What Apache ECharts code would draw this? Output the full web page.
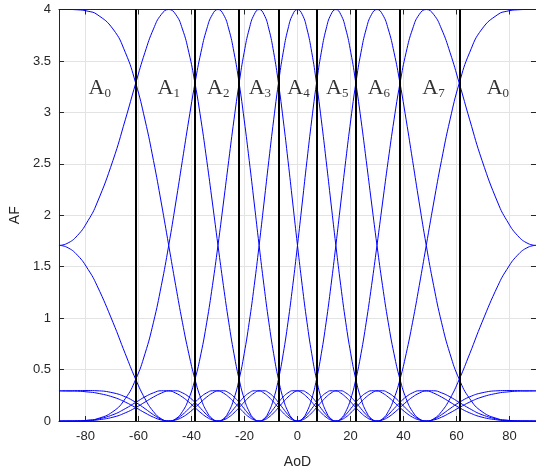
<!DOCTYPE html>
<html>
<head>
<meta charset="utf-8">
<script src="https://cdn.jsdelivr.net/npm/echarts@6/dist/echarts.min.js"></script>
<style>
  html, body { margin: 0; padding: 0; background: #fff; }
  #main { width: 536px; height: 475px; }
</style>
</head>
<body>
<div id="main"></div>
<script>
// AoD sample points (deg)
var theta = [-90, -87, -83, -79, -75.64, -69.64, -64.99, -61.04, -57.54, -54.34, -51.38, -48.59, -45.95, -43.43, -41.01, -38.68, -36.42, -34.23, -32.09, -30, -27.95, -25.94, -23.97, -22.02, -20.11, -18.21, -16.33, -14.48, -12.64, -10.81, -8.99, -7.18, -5.38, -3.58, -1.79, 0, 1.79, 3.58, 5.38, 7.18, 8.99, 10.81, 12.64, 14.48, 16.33, 18.21, 20.11, 22.02, 23.97, 25.94, 27.95, 30, 32.09, 34.23, 36.42, 38.68, 41.01, 43.43, 45.95, 48.59, 51.38, 54.34, 57.54, 61.04, 64.99, 69.64, 75.64, 79, 83, 87, 90];

// AF of each beam at those points
var a0 = [4, 4, 3.997, 3.983, 3.952, 3.811, 3.584, 3.284, 2.927, 2.532, 2.119, 1.707, 1.316, 0.96, 0.654, 0.405, 0.217, 0.091, 0.021, 0, 0.017, 0.061, 0.12, 0.181, 0.235, 0.274, 0.294, 0.293, 0.271, 0.233, 0.184, 0.13, 0.079, 0.037, 0.01, 0, 0.01, 0.037, 0.079, 0.13, 0.184, 0.233, 0.271, 0.293, 0.294, 0.274, 0.235, 0.181, 0.12, 0.061, 0.017, 0, 0.021, 0.091, 0.217, 0.405, 0.654, 0.96, 1.316, 1.707, 2.119, 2.532, 2.927, 3.284, 3.584, 3.811, 3.952, 3.983, 3.997, 4, 4];
var a1 = [1.707, 1.725, 1.804, 1.949, 2.119, 2.532, 2.927, 3.284, 3.584, 3.811, 3.952, 4, 3.952, 3.811, 3.584, 3.284, 2.927, 2.532, 2.119, 1.707, 1.316, 0.96, 0.654, 0.405, 0.217, 0.091, 0.021, 0, 0.017, 0.061, 0.12, 0.181, 0.235, 0.274, 0.294, 0.293, 0.271, 0.233, 0.184, 0.13, 0.079, 0.037, 0.01, 0, 0.01, 0.037, 0.079, 0.13, 0.184, 0.233, 0.271, 0.293, 0.294, 0.274, 0.235, 0.181, 0.12, 0.061, 0.017, 0, 0.021, 0.091, 0.217, 0.405, 0.654, 0.96, 1.316, 1.473, 1.611, 1.689, 1.707];
var a2 = [0, 0, 0.001, 0.007, 0.021, 0.091, 0.217, 0.405, 0.654, 0.96, 1.316, 1.707, 2.119, 2.532, 2.927, 3.284, 3.584, 3.811, 3.952, 4, 3.952, 3.811, 3.584, 3.284, 2.927, 2.532, 2.119, 1.707, 1.316, 0.96, 0.654, 0.405, 0.217, 0.091, 0.021, 0, 0.017, 0.061, 0.12, 0.181, 0.235, 0.274, 0.294, 0.293, 0.271, 0.233, 0.184, 0.13, 0.079, 0.037, 0.01, 0, 0.01, 0.037, 0.079, 0.13, 0.184, 0.233, 0.271, 0.293, 0.294, 0.274, 0.235, 0.181, 0.12, 0.061, 0.017, 0.007, 0.001, 0, 0];
var a3 = [0.293, 0.293, 0.295, 0.296, 0.294, 0.274, 0.235, 0.181, 0.12, 0.061, 0.017, 0, 0.021, 0.091, 0.217, 0.405, 0.654, 0.96, 1.316, 1.707, 2.119, 2.532, 2.927, 3.284, 3.584, 3.811, 3.952, 4, 3.952, 3.811, 3.584, 3.284, 2.927, 2.532, 2.119, 1.707, 1.316, 0.96, 0.654, 0.405, 0.217, 0.091, 0.021, 0, 0.017, 0.061, 0.12, 0.181, 0.235, 0.274, 0.294, 0.293, 0.271, 0.233, 0.184, 0.13, 0.079, 0.037, 0.01, 0, 0.01, 0.037, 0.079, 0.13, 0.184, 0.233, 0.271, 0.282, 0.29, 0.292, 0.293];
var a4 = [0, 0, 0.001, 0.003, 0.01, 0.037, 0.079, 0.13, 0.184, 0.233, 0.271, 0.293, 0.294, 0.274, 0.235, 0.181, 0.12, 0.061, 0.017, 0, 0.021, 0.091, 0.217, 0.405, 0.654, 0.96, 1.316, 1.707, 2.119, 2.532, 2.927, 3.284, 3.584, 3.811, 3.952, 4, 3.952, 3.811, 3.584, 3.284, 2.927, 2.532, 2.119, 1.707, 1.316, 0.96, 0.654, 0.405, 0.217, 0.091, 0.021, 0, 0.017, 0.061, 0.12, 0.181, 0.235, 0.274, 0.294, 0.293, 0.271, 0.233, 0.184, 0.13, 0.079, 0.037, 0.01, 0.003, 0.001, 0, 0];
var a5 = [0.293, 0.292, 0.29, 0.282, 0.271, 0.233, 0.184, 0.13, 0.079, 0.037, 0.01, 0, 0.01, 0.037, 0.079, 0.13, 0.184, 0.233, 0.271, 0.293, 0.294, 0.274, 0.235, 0.181, 0.12, 0.061, 0.017, 0, 0.021, 0.091, 0.217, 0.405, 0.654, 0.96, 1.316, 1.707, 2.119, 2.532, 2.927, 3.284, 3.584, 3.811, 3.952, 4, 3.952, 3.811, 3.584, 3.284, 2.927, 2.532, 2.119, 1.707, 1.316, 0.96, 0.654, 0.405, 0.217, 0.091, 0.021, 0, 0.017, 0.061, 0.12, 0.181, 0.235, 0.274, 0.294, 0.296, 0.295, 0.293, 0.293];
var a6 = [0, 0, 0.001, 0.007, 0.017, 0.061, 0.12, 0.181, 0.235, 0.274, 0.294, 0.293, 0.271, 0.233, 0.184, 0.13, 0.079, 0.037, 0.01, 0, 0.01, 0.037, 0.079, 0.13, 0.184, 0.233, 0.271, 0.293, 0.294, 0.274, 0.235, 0.181, 0.12, 0.061, 0.017, 0, 0.021, 0.091, 0.217, 0.405, 0.654, 0.96, 1.316, 1.707, 2.119, 2.532, 2.927, 3.284, 3.584, 3.811, 3.952, 4, 3.952, 3.811, 3.584, 3.284, 2.927, 2.532, 2.119, 1.707, 1.316, 0.96, 0.654, 0.405, 0.217, 0.091, 0.021, 0.007, 0.001, 0, 0];
var a7 = [1.707, 1.689, 1.611, 1.473, 1.316, 0.96, 0.654, 0.405, 0.217, 0.091, 0.021, 0, 0.017, 0.061, 0.12, 0.181, 0.235, 0.274, 0.294, 0.293, 0.271, 0.233, 0.184, 0.13, 0.079, 0.037, 0.01, 0, 0.01, 0.037, 0.079, 0.13, 0.184, 0.233, 0.271, 0.293, 0.294, 0.274, 0.235, 0.181, 0.12, 0.061, 0.017, 0, 0.021, 0.091, 0.217, 0.405, 0.654, 0.96, 1.316, 1.707, 2.119, 2.532, 2.927, 3.284, 3.584, 3.811, 3.952, 4, 3.952, 3.811, 3.584, 3.284, 2.927, 2.532, 2.119, 1.949, 1.804, 1.725, 1.707];

// sector borders (black lines)
var borders = [-61.04, -38.68, -22.02, -7.18, 7.18, 22.02, 38.68, 61.04];

// sector names
var sectorX = [-74.6, -48.6, -29.9, -14.2, 0.4, 15, 30.7, 51.3, 75.6];
var sectorSub = ['0', '1', '2', '3', '4', '5', '6', '7', '0'];
var sectorY = 3.24;

var xTicks = [-80, -60, -40, -20, 0, 20, 40, 60, 80];

var beams = [a0, a1, a2, a3, a4, a5, a6, a7];
var axisCol = '#262626';
var gridCol = '#e3e3e3';

var myChart = echarts.init(document.getElementById('main'));

var series = beams.map(function (b, k) {
  return {
    name: 'A' + k,
    type: 'line',
    data: theta.map(function (t, i) { return [t, b[i]]; }),
    showSymbol: false,
    smooth: true,
    lineStyle: { color: '#0000ff', width: 1 },
    silent: true,
    z: 2
  };
});

series.push({
  type: 'line',
  data: [],
  silent: true,
  z: 3,
  markLine: {
    silent: true,
    symbol: 'none',
    label: { show: false },
    lineStyle: { color: '#000', width: 2, type: 'solid' },
    data: borders.map(function (b) { return { xAxis: b }; })
  }
});

series.push({
  type: 'scatter',
  symbolSize: 0,
  silent: true,
  z: 4,
  data: sectorX.map(function (x, i) { return [x, sectorY, sectorSub[i]]; }),
  label: {
    show: true,
    position: 'inside',
    formatter: function (p) { return '{a|A}{s|' + p.value[2] + '}'; },
    rich: {
      a: { fontFamily: 'Liberation Serif', fontSize: 22, color: '#000', lineHeight: 24, verticalAlign: 'bottom' },
      s: { fontFamily: 'Liberation Serif', fontSize: 13, color: '#000', lineHeight: 14, verticalAlign: 'bottom' }
    }
  }
});

myChart.setOption({
  animation: false,
  grid: { left: 57, right: -2, top: 9.5, bottom: 54 },
  xAxis: [{
    type: 'value',
    min: -90,
    max: 90,
    name: 'AoD',
    nameLocation: 'middle',
    nameGap: 34,
    nameTextStyle: { fontFamily: 'Liberation Sans', fontSize: 14, color: axisCol },
    axisLine: { show: true, onZero: false, lineStyle: { color: axisCol } },
    axisTick: { show: true, inside: true, length: 5, customValues: xTicks, lineStyle: { color: axisCol } },
    axisLabel: { customValues: xTicks, margin: 9, fontFamily: 'Liberation Sans', fontSize: 13, color: axisCol },
    splitLine: { show: true, lineStyle: { color: gridCol } }
  }, {
    type: 'value',
    position: 'top',
    min: -90,
    max: 90,
    axisLine: { show: true, onZero: false, lineStyle: { color: axisCol } },
    axisTick: { show: true, inside: true, length: 5, customValues: xTicks, lineStyle: { color: axisCol } },
    axisLabel: { show: false },
    splitLine: { show: false }
  }],
  yAxis: [{
    type: 'value',
    position: 'left',
    min: 0,
    max: 4,
    interval: 0.5,
    name: 'AF',
    nameLocation: 'middle',
    nameGap: 36,
    nameTextStyle: { fontFamily: 'Liberation Sans', fontSize: 14, color: axisCol },
    axisLine: { show: true, onZero: false, lineStyle: { color: axisCol } },
    axisTick: { show: true, inside: true, length: 5, lineStyle: { color: axisCol } },
    axisLabel: { margin: 8, fontFamily: 'Liberation Sans', fontSize: 13, color: axisCol },
    splitLine: { show: true, lineStyle: { color: gridCol } }
  }, {
    type: 'value',
    position: 'right',
    min: 0,
    max: 4,
    interval: 0.5,
    axisLine: { show: true, onZero: false, lineStyle: { color: axisCol } },
    axisTick: { show: true, inside: true, length: 5, lineStyle: { color: axisCol } },
    axisLabel: { show: false },
    splitLine: { show: false }
  }],
  series: series
});
</script>
</body>
</html>
